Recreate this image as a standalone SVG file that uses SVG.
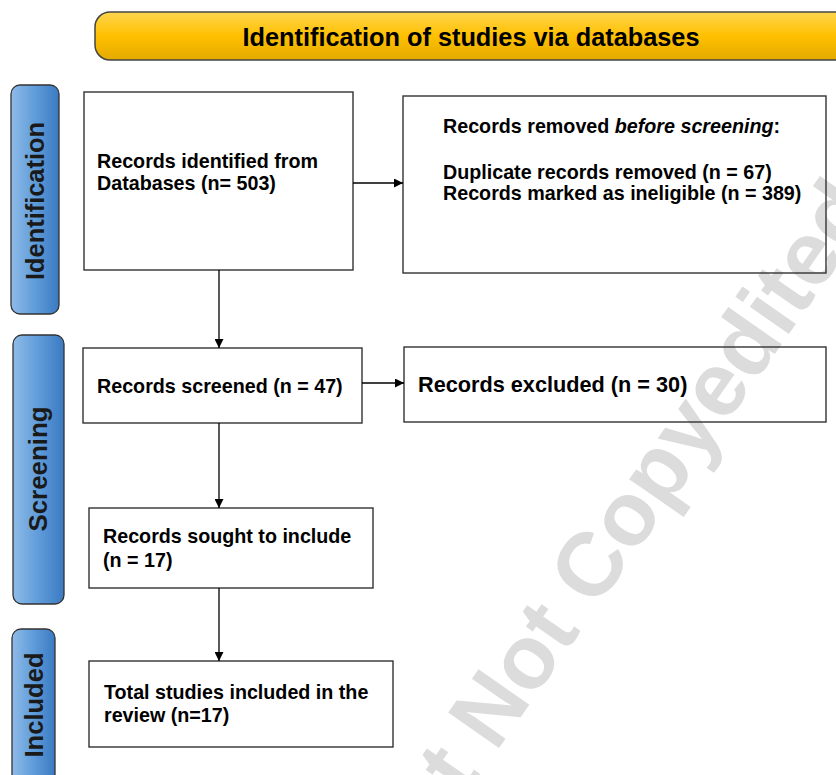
<svg xmlns="http://www.w3.org/2000/svg" width="836" height="775" viewBox="0 0 836 775">
<defs>
<linearGradient id="gHead" x1="0" y1="0" x2="0" y2="1">
<stop offset="0" stop-color="#FFD54F"/>
<stop offset="0.5" stop-color="#FFC000"/>
<stop offset="1" stop-color="#E3AA00"/>
</linearGradient>
<linearGradient id="gSide" x1="0" y1="0" x2="1" y2="0">
<stop offset="0" stop-color="#8FBBE8"/>
<stop offset="0.5" stop-color="#5F9CDA"/>
<stop offset="1" stop-color="#3A7AC2"/>
</linearGradient>
<marker id="arr" viewBox="0 0 10 10" refX="10" refY="5" markerWidth="9" markerHeight="9" markerUnits="userSpaceOnUse" orient="auto">
<path d="M0,0 L10,5 L0,10 z" fill="#000"/>
</marker>
<style>
.box{fill:none;stroke:#333;stroke-width:1.4}
.side{fill:url(#gSide);stroke:#333;stroke-width:1.3}
.t{font-family:"Liberation Sans",Arial,sans-serif;font-weight:bold;font-size:19.7px;fill:#000}
.big{font-size:21.7px}
.sidet{font-family:"Liberation Sans",Arial,sans-serif;font-weight:bold;font-size:26px;fill:#1a1a1a;text-anchor:middle}
.ht{font-family:"Liberation Sans Narrow","Liberation Sans",Arial,sans-serif;font-weight:bold;font-size:26px;fill:#000;text-anchor:middle}
.wm{font-family:"Liberation Sans",Arial,sans-serif;font-weight:bold;font-size:90px;fill:#dcdcdc}
.con{stroke:#000;stroke-width:1.3;fill:none;marker-end:url(#arr)}
</style>
</defs>
<rect width="836" height="775" fill="#fff"/>
<text class="wm" x="464" y="798" transform="rotate(-55 464 798)">t Not Copyedited</text>
<g id="header">
<rect x="95" y="12" width="770" height="48" rx="15" fill="url(#gHead)" stroke="#444" stroke-width="1.5"/>
<text class="ht" x="471" y="46" textLength="457" lengthAdjust="spacingAndGlyphs">Identification of studies via databases</text>
</g>
<g id="phase-identification">
<rect class="side" x="11" y="85" width="48" height="229" rx="9"/>
<text class="sidet" transform="translate(44 201) rotate(-90)" textLength="158" lengthAdjust="spacingAndGlyphs">Identification</text>
</g>
<g id="phase-screening">
<rect class="side" x="13" y="335" width="51" height="269" rx="9"/>
<text class="sidet" transform="translate(47 469) rotate(-90)" textLength="125" lengthAdjust="spacingAndGlyphs">Screening</text>
</g>
<g id="phase-included">
<rect class="side" x="12" y="629" width="43" height="160" rx="9"/>
<text class="sidet" transform="translate(43 705) rotate(-90)" textLength="105" lengthAdjust="spacingAndGlyphs">Included</text>
</g>
<g id="n-identified">
<rect class="box" x="84" y="92" width="269" height="178"/>
<text class="t" x="97" y="168">Records identified from</text>
<text class="t" x="97" y="190">Databases (n= 503)</text>
</g>
<g id="n-removed">
<rect class="box" x="403" y="96" width="423" height="177"/>
<text class="t" x="443" y="133">Records removed <tspan font-style="italic">before screening</tspan>:</text>
<text class="t" x="443" y="179">Duplicate records removed (n = 67)</text>
<text class="t" x="443" y="200">Records marked as ineligible (n = 389)</text>
</g>
<g id="n-screened">
<rect class="box" x="83" y="348" width="279" height="75"/>
<text class="t" x="97" y="393">Records screened (n = 47)</text>
</g>
<g id="n-excluded">
<rect class="box" x="404" y="347" width="422" height="75"/>
<text class="t big" x="418" y="392">Records excluded (n = 30)</text>
</g>
<g id="n-sought">
<rect class="box" x="89" y="508" width="284" height="80"/>
<text class="t" x="103" y="543">Records sought to include</text>
<text class="t" x="103" y="567">(n = 17)</text>
</g>
<g id="n-included">
<rect class="box" x="89" y="661" width="304" height="86"/>
<text class="t" x="104" y="699">Total studies included in the</text>
<text class="t" x="104" y="722">review (n=17)</text>
</g>
<g id="connectors">
<line class="con" x1="353" y1="183" x2="403" y2="183"/>
<line class="con" x1="219" y1="270" x2="219" y2="348"/>
<line class="con" x1="362" y1="383" x2="404" y2="383"/>
<line class="con" x1="219" y1="423" x2="219" y2="508"/>
<line class="con" x1="219" y1="588" x2="219" y2="661"/>
</g>
</svg>
